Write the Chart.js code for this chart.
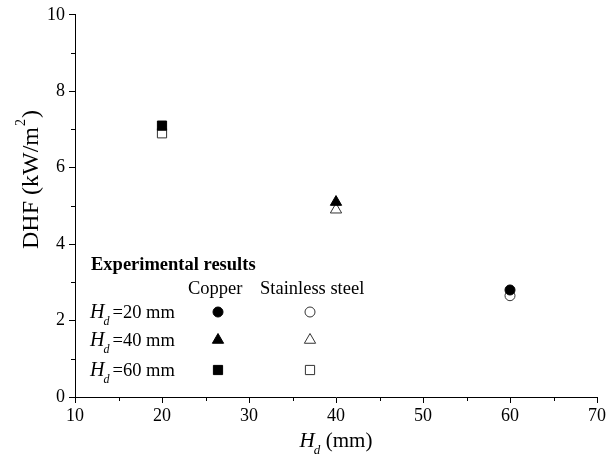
<!DOCTYPE html>
<html>
<head>
<meta charset="utf-8">
<script src="https://cdn.jsdelivr.net/npm/chart.js@4"></script>
<style>
body { margin: 0; background: #fff; }
#wrap { width: 615px; height: 467px; }
</style>
</head>
<body>
<div id="wrap"><canvas id="dhfChart" width="615" height="467"></canvas></div>
<script>
const hdValues = [20, 40, 60];
const copperDHF = [7.1, 5.1, 2.8];
const steelDHF = [6.9, 4.9, 2.65];
const xTicks = [10, 20, 30, 40, 50, 60, 70];
const yTicks = [0, 2, 4, 6, 8, 10];
const legendRows = ['=20 mm', '=40 mm', '=60 mm'];
const legendCols = ['Copper', 'Stainless steel'];

// marker shape used at each Hd in the plot, and for each legend row
const plotShapes = ['rect', 'triangle', 'circle'];
const legendShapes = ['circle', 'triangle', 'rect'];
const shapeRadius = { circle: 5, triangle: 6.5, rect: 6.5 };
const serif = '"Liberation Serif", "Times New Roman", serif';

function markerStyle(filled) {
    return filled
        ? { backgroundColor: '#000', borderColor: '#000', borderWidth: 1 }
        : { backgroundColor: '#fff', borderColor: '#333', borderWidth: 1 };
}

// copper first so it is drawn on top of the stainless steel marker
const datasets = [];
hdValues.forEach((hd, i) => {
    datasets.push(Object.assign({
        label: 'Copper ' + hd,
        data: [{ x: hd, y: copperDHF[i] }],
        pointStyle: plotShapes[i],
        pointRadius: shapeRadius[plotShapes[i]]
    }, markerStyle(true)));
});
hdValues.forEach((hd, i) => {
    datasets.push(Object.assign({
        label: 'Stainless steel ' + hd,
        data: [{ x: hd, y: steelDHF[i] }],
        pointStyle: plotShapes[i],
        pointRadius: shapeRadius[plotShapes[i]]
    }, markerStyle(false)));
});

// italic H with a subscript d, returns the width used
function drawHd(ctx, x, baseline, size) {
    ctx.fillStyle = '#000';
    ctx.font = `italic ${size}px ${serif}`;
    ctx.fillText('H', x, baseline);
    const w = ctx.measureText('H').width;
    ctx.font = `italic ${Math.round(size * 0.62)}px ${serif}`;
    ctx.fillText('d', x + w - 1, baseline + size * 0.34);
    return w - 1 + ctx.measureText('d').width;
}

function drawMarker(ctx, shape, filled, x, y) {
    const st = markerStyle(filled);
    ctx.fillStyle = st.backgroundColor;
    ctx.strokeStyle = st.borderColor;
    ctx.lineWidth = st.borderWidth;
    Chart.helpers.drawPoint(ctx, { pointStyle: shape, radius: shapeRadius[shape], rotation: 0, borderWidth: 1 }, x, y);
}

const decorations = {
    id: 'decorations',
    afterDraw(chart) {
        const { ctx, chartArea, scales: { x, y } } = chart;
        ctx.save();

        // minor ticks
        ctx.strokeStyle = '#000';
        ctx.lineWidth = 1;
        ctx.beginPath();
        xTicks.slice(1).forEach((t, i) => {
            const px = Math.round(x.getPixelForValue((t + xTicks[i]) / 2)) + 0.5;
            ctx.moveTo(px, chartArea.bottom);
            ctx.lineTo(px, chartArea.bottom + 4);
        });
        yTicks.slice(1).forEach((t, i) => {
            const py = Math.round(y.getPixelForValue((t + yTicks[i]) / 2)) + 0.5;
            ctx.moveTo(chartArea.left, py);
            ctx.lineTo(chartArea.left - 4, py);
        });
        ctx.stroke();

        ctx.fillStyle = '#000';
        ctx.textBaseline = 'alphabetic';
        ctx.textAlign = 'left';

        // y axis title, read from the bottom upwards
        ctx.save();
        ctx.translate(38, 249);
        ctx.rotate(-Math.PI / 2);
        ctx.font = `24px ${serif}`;
        const main = 'DHF (kW/m';
        ctx.fillText(main, 0, 0);
        let tx = ctx.measureText(main).width;
        ctx.font = `14px ${serif}`;
        ctx.fillText('2', tx + 1, -13);
        tx += ctx.measureText('2').width + 2;
        ctx.font = `24px ${serif}`;
        ctx.fillText(')', tx, 0);
        ctx.restore();

        // x axis title
        ctx.font = `21px ${serif}`;
        const wUnit = ctx.measureText('(mm)').width;
        ctx.font = `italic 21px ${serif}`;
        const wH = ctx.measureText('H').width + 11;
        const xt = (chartArea.left + chartArea.right) / 2 - (wH + wUnit) / 2;
        drawHd(ctx, xt, 447, 21);
        ctx.font = `21px ${serif}`;
        ctx.fillText('(mm)', xt + wH, 447);

        // legend block
        ctx.fillStyle = '#000';
        ctx.font = `bold 18.5px ${serif}`;
        ctx.fillText('Experimental results', 91, 270);
        ctx.font = `18.5px ${serif}`;
        ctx.fillText(legendCols[0], 188, 294);
        ctx.fillText(legendCols[1], 260, 294);
        const rowY = [312, 340, 370];
        const colX = [218, 310];
        legendRows.forEach((label, i) => {
            const base = rowY[i] + 6;
            const w = drawHd(ctx, 90, base, 20);
            ctx.font = `18.5px ${serif}`;
            ctx.fillText(label, 90 + w + 3, base);
            drawMarker(ctx, legendShapes[i], true, colX[0], rowY[i]);
            drawMarker(ctx, legendShapes[i], false, colX[1], rowY[i]);
        });
        ctx.restore();
    }
};

new Chart(document.getElementById('dhfChart').getContext('2d'), {
    type: 'scatter',
    data: { datasets },
    options: {
        responsive: false,
        animation: false,
        devicePixelRatio: 1,
        layout: { padding: { top: 14, right: 18, left: 0, bottom: 0 } },
        plugins: { legend: { display: false }, tooltip: { enabled: false } },
        elements: { point: { hoverRadius: 5 } },
        scales: {
            x: {
                type: 'linear',
                min: xTicks[0],
                max: xTicks[xTicks.length - 1],
                afterBuildTicks: s => { s.ticks = xTicks.map(v => ({ value: v })); },
                afterFit: s => { s.height = 70; },
                grid: { display: true, drawOnChartArea: false, drawTicks: true, tickLength: 6, color: '#000' },
                border: { display: true, color: '#000', width: 1 },
                ticks: { color: '#000', padding: 2, font: { family: serif, size: 18 } }
            },
            y: {
                type: 'linear',
                min: yTicks[0],
                max: yTicks[yTicks.length - 1],
                afterBuildTicks: s => { s.ticks = yTicks.map(v => ({ value: v })); },
                afterFit: s => { s.width = 75; },
                grid: { display: true, drawOnChartArea: false, drawTicks: true, tickLength: 6, color: '#000' },
                border: { display: true, color: '#000', width: 1 },
                ticks: { color: '#000', padding: 4, font: { family: serif, size: 18 } }
            }
        }
    },
    plugins: [decorations]
});
</script>
</body>
</html>
